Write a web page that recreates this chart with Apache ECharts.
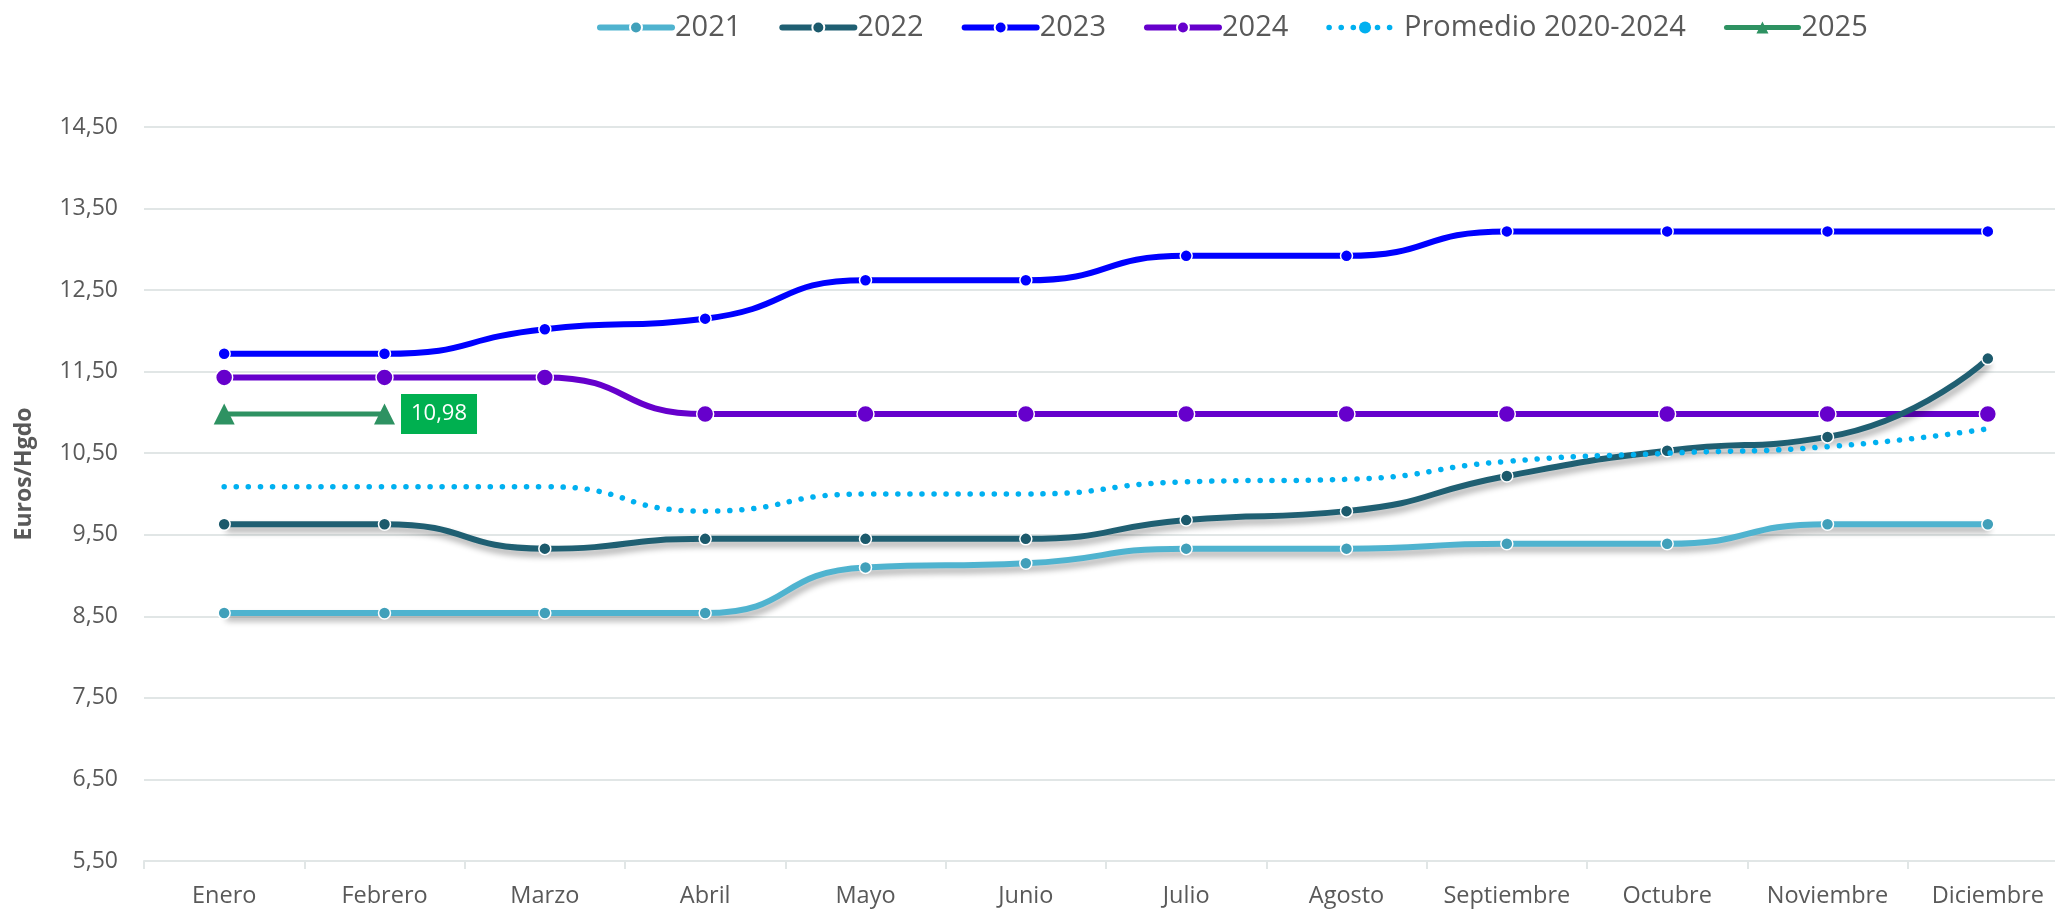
<!DOCTYPE html>
<html>
<head>
<meta charset="utf-8">
<script src="https://cdn.jsdelivr.net/npm/echarts@6/dist/echarts.min.js"></script>
<style>
html,body{margin:0;padding:0;background:#fff;overflow:hidden;}
#chart{width:2055px;height:909px;}
</style>
</head>
<body>
<div id="chart"></div>
<script>
const categories = ['Enero','Febrero','Marzo','Abril','Mayo','Junio','Julio','Agosto','Septiembre','Octubre','Noviembre','Diciembre'];
const values2021 = [8.54,8.54,8.54,8.54,9.10,9.15,9.33,9.33,9.39,9.39,9.63,9.63];
const values2022 = [9.63,9.63,9.33,9.45,9.45,9.45,9.68,9.79,10.22,10.53,10.70,11.66];
const values2023 = [11.72,11.72,12.02,12.15,12.62,12.62,12.92,12.92,13.22,13.22,13.22,13.22];
const values2024 = [11.43,11.43,11.43,10.98,10.98,10.98,10.98,10.98,10.98,10.98,10.98,10.98];
const valuesPromedio = [10.09,10.09,10.09,9.79,10.00,10.00,10.15,10.18,10.40,10.50,10.58,10.80];
const values2025 = [10.98,10.98];
const seriesNames = ['2021','2022','2023','2024','Promedio 2020-2024','2025'];
const yMin = 5.5, yMax = 14.5, yStep = 1;

const fmt = v => v.toFixed(2).replace('.', ',');
const font = "'Open Sans', 'DejaVu Sans', sans-serif";
const textColor = '#595959';
const gridColor = '#E1E6E6';
const shadow = {shadowColor:'rgba(0,0,0,0.33)', shadowBlur:6, shadowOffsetX:2, shadowOffsetY:5};

const chart = echarts.init(document.getElementById('chart'), null, {renderer:'canvas'});
chart.setOption({
  animation:false,
  backgroundColor:'#fff',
  textStyle:{fontFamily:font},
  legend:{
    left:592, top:8,
    itemWidth:72, itemHeight:15, itemGap:38,
    lineStyle:{width:'inherit', cap:'round'},
    textStyle:{fontSize:29, color:textColor, fontFamily:font, padding:[0,0,0,-2]},
    data:seriesNames
  },
  grid:{left:144, top:127, width:1924, height:734, outerBoundsMode:'none', containLabel:false},
  xAxis:{
    type:'category', data:categories, boundaryGap:true,
    axisLine:{show:true, lineStyle:{color:gridColor, width:2}},
    axisTick:{show:true, interval:0, length:8, lineStyle:{color:gridColor, width:2}},
    axisLabel:{fontSize:23.5, color:textColor, margin:23, interval:0, fontFamily:font, hideOverlap:false}
  },
  yAxis:{
    type:'value', min:yMin, max:yMax, interval:yStep,
    name:'Euros/Hgdo', nameLocation:'middle', nameGap:108, nameRotate:90,
    nameTextStyle:{fontSize:23, fontWeight:'bold', color:textColor, fontFamily:font, padding:[0,0,0,40]},
    axisLine:{show:false}, axisTick:{show:false},
    axisLabel:{fontSize:23, color:textColor, margin:26, formatter:fmt, fontFamily:font},
    splitLine:{lineStyle:{color:gridColor, width:2}}
  },
  series:[
    {name:'2021', type:'line', data:values2021, smooth:0.55, z:2,
     symbol:'circle', symbolSize:12, color:'#4FB3CF',
     lineStyle:Object.assign({color:'#4FB3CF', width:6}, shadow),
     itemStyle:{color:'#41A0BA', borderColor:'#fff', borderWidth:1.5}},
    {name:'2022', type:'line', data:values2022, smooth:0.55, z:4,
     symbol:'circle', symbolSize:12, color:'#1F5F72',
     lineStyle:Object.assign({color:'#1F5F72', width:6}, shadow),
     itemStyle:{color:'#1C5A6C', borderColor:'#fff', borderWidth:1.5}},
    {name:'2023', type:'line', data:values2023, smooth:0.55, z:3,
     symbol:'circle', symbolSize:12, color:'#0000FF',
     lineStyle:{color:'#0000FF', width:6},
     itemStyle:{color:'#0000FF', borderColor:'#fff', borderWidth:1.5}},
    {name:'2024', type:'line', data:values2024, smooth:0.55, z:3,
     symbol:'circle', symbolSize:17, color:'#6600CC',
     lineStyle:{color:'#6600CC', width:6},
     itemStyle:{color:'#6600CC', borderColor:'#fff', borderWidth:1.5}},
    {name:'Promedio 2020-2024', type:'line', data:valuesPromedio, smooth:0.55, z:5,
     symbol:'none', color:'#00B0F0',
     lineStyle:{color:'#00B0F0', width:5.5, type:[0.1,12], cap:'round'}},
    {name:'2025', type:'line', data:values2025.map((v,i)=> i===values2025.length-1 ? {value:v, label:{show:true}} : v),
     smooth:0.55, z:6, symbol:'triangle', symbolSize:21, color:'#2E9262',
     lineStyle:{color:'#2E9262', width:5},
     itemStyle:{color:'#2E9262'},
     label:{show:false, position:'right', distance:6, formatter:p=>fmt(p.value),
       color:'#fff', backgroundColor:'#00B050', fontSize:22, lineHeight:30,
       padding:[5,10,5,10], fontFamily:font}}
  ]
});
</script>
</body>
</html>
